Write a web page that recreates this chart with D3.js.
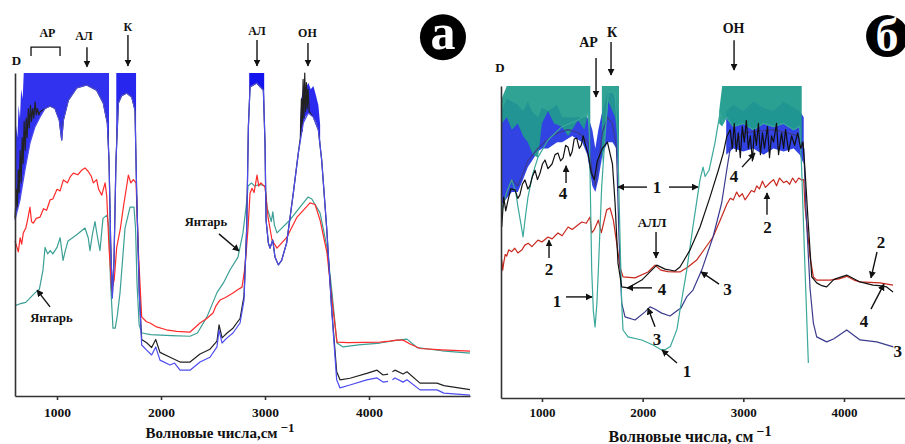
<!DOCTYPE html>
<html>
<head>
<meta charset="utf-8">
<script src="https://cdn.jsdelivr.net/npm/d3@7"></script>
<style>
  body { margin: 0; background: #fff; }
  svg { display: block; font-family: "Liberation Serif", "Times New Roman", serif; font-weight: bold; }
  .axis path, .axis line { stroke: #333; stroke-width: 1.6; }
  .axis text { font-family: "Liberation Serif", serif; font-weight: bold; fill: #111; }
  .curve { fill: none; stroke-width: 1.2; stroke-linejoin: round; }
</style>
</head>
<body>
<svg id="chart" width="905" height="444"></svg>
<script>
const d3 = window.d3;

// ---------- panel "а" : [wavenumber, D] ----------
const ticks = [1000, 2000, 3000, 4000];

const aTeal = [
  [596,28],[640,28.5],[700,29],[760,31],[790,32],[830,33],[865,39],[885,46],[910,44],[935,45],[960,44],[1000,46],
  [1030,49],[1058,42],[1080,45],[1106,48],[1150,49],[1192,50],[1230,51],[1269,52],[1300,49],[1317,45],[1340,50],
  [1365,54],[1390,49],[1413,45],[1442,55],[1481,56],[1500,52],[1515,35],[1538,21],[1560,21],[1580,25],[1606,32],
  [1654,52],[1702,58.5],[1740,58.5],[1755,52],[1769,35],[1790,22],[1817,19.5],[1900,19],[2100,18.7],[2279,18.5],
  [2350,19.5],[2442,24.5],[2538,32],[2600,35],[2663,39],[2740,43],[2788,50.5],[2827,61],[2837,65],[2870,66],
  [2900,65],[2950,65.5],[3000,65],[3019,58.5],[3060,54],[3075,57],[3090,53],[3115,50.5],[3240,54.5],[3336,58.5],
  [3413,61.6],[3450,61],[3529,56.7],[3596,46],[3644,32],[3692,16.4],[3750,15.2],[3900,15.8],[4106,16.4],[4269,17.3],
  [4365,17.6],[4462,15],[4700,14],[4971,13.3]
];

const aRed = [
  [596,48],[615,46],[628,44.6],[645,49],[660,47],[676,50.5],[700,52],[720,55],[740,58.5],[755,54],[772,53.5],
  [800,55],[837,55.4],[870,58],[900,57.5],[933,60.7],[960,61],[1000,64],[1030,63.5],[1061,66.9],[1100,66],
  [1130,68],[1157,69],[1200,68.5],[1240,70],[1269,70.6],[1301,69.5],[1330,68],[1349,66],[1381,67],[1400,64],
  [1430,62.2],[1462,66],[1478,62],[1500,46],[1526,32.8],[1550,36],[1574,46],[1610,52],[1638,58.5],[1665,64],
  [1686,68.4],[1710,66],[1734,67],[1760,66],[1782,45],[1814,24.5],[1860,23],[1894,22.6],[1950,21.5],[2050,20.5],
  [2150,20],[2279,19.8],[2375,22.6],[2440,24],[2500,25.7],[2530,28],[2567,29.7],[2620,30.5],[2692,31.9],[2740,33],
  [2779,33.7],[2808,40],[2837,52],[2856,62.8],[2875,64.3],[2895,63],[2923,68.4],[2940,65],[2960,66],[3000,64.7],
  [3029,55.4],[3067,48.3],[3115,45.8],[3211,49.2],[3308,55.4],[3433,59.8],[3481,59.3],[3529,54.5],[3596,44.3],
  [3644,29.7],[3692,16.7],[3800,16.5],[4106,16.7],[4200,17],[4267,17.3],[4327,17.3],[4400,16],[4490,14.7],
  [4700,14.3],[4971,13.9]
];

const aBlue = [
  [596,54.5],[644,60.7],[692,70],[740,78.3],[788,83.3],[837,86.4],[885,89],[933,89.8],[981,89],[1022,85.4],
  [1045,79.3],[1061,85.4],[1109,91.6],[1189,95.4],[1285,96.3],[1381,94.7],[1445,90.7],[1484,84.5],[1500,73],
  [1516,47.4],[1532,30.3],[1548,42],[1567,73],[1590,90.7],[1622,93],[1670,93.8],[1718,92.6],[1750,88.5],
  [1766,62.8],[1791,31.9],[1814,15.8],[1862,14.2],[1910,12.7],[1949,15.2],[1990,11.1],[2087,9.6],[2130,10.2],
  [2183,8],[2279,8],[2375,10.5],[2471,12],[2538,15.2],[2558,20.4],[2587,16.4],[2635,18],[2692,19.5],[2760,22.6],
  [2798,29.7],[2824,52],[2840,83.3],[2856,95.7],[2920,96.9],[2984,94.7],[3000,78.3],[3010,54.5],[3032,47.4],
  [3048,45.8],[3074,48.3],[3096,43],[3128,40.6],[3160,42],[3208,47.4],[3272,62.8],[3320,75.2],[3368,84.5],
  [3416,87.6],[3465,86.4],[3513,82.4],[3545,73],[3593,52],[3641,26.6],[3689,5],[3721,2.5],[3817,3.4],[3978,5],
  [4077,5.6],[4135,4.3],[4183,4.5],[4200,null],[4225,5],[4250,5.6],[4327,4.3],[4365,5],[4490,1.9],[4654,1.9],
  [4720,0.9],[4971,0.3]
];

const aBlack = [
  [596,55],[610,64],[618,58],[628,70],[636,63],[646,76],[655,66],[665,80],[674,72],[684,85],[694,76],[704,86],
  [713,80],[724,89],[733,83],[745,90],[754,85],[766,89],[776,86],[790,91],[800,87],[812,89],[825,87],[837,88],
  [885,89],[933,89.8],[981,89],[1022,85.4],[1045,79.3],[1061,85.4],[1109,91.6],[1189,95.4],[1285,96.3],
  [1381,94.7],[1445,90.7],[1484,84.5],[1500,73],[1516,47.4],[1532,31],[1548,42],[1567,73],[1590,90.7],[1622,93],
  [1670,93.8],[1718,92.6],[1750,88.5],[1766,62.8],[1791,32],[1814,17.5],[1862,16.5],[1910,15],[1949,17.5],
  [1990,13.5],[2087,12],[2183,10.5],[2279,10.5],[2375,13],[2471,14.5],[2538,17],[2558,22],[2587,18],[2635,19.5],
  [2692,21],[2760,24],[2798,31],[2824,52],[2840,83.3],[2856,95.7],[2920,96.9],[2984,94.7],[3000,78.3],[3010,54.5],
  [3032,47.4],[3048,45.8],[3074,48.3],[3096,43],[3128,40.6],[3160,42],[3208,47.4],[3272,62.8],[3320,75.2],
  [3340,80],[3350,92],[3358,82],[3366,98],[3374,86],[3382,100],[3390,88],[3398,97],[3406,89],[3414,95],[3425,88],
  [3465,86.4],[3513,82.4],[3545,73],[3593,52],[3641,27],[3689,7.5],[3721,5],[3817,5.5],[3978,7],[4077,8],
  [4135,6.5],[4183,6.8],[4200,null],[4225,7.5],[4250,8],[4327,6.8],[4365,7.5],[4490,4],[4654,4],[4720,3.2],
  [4971,2]
];

// saturated noise bands of the blue spectrum: [wavenumber, low D, high D]
const aBandLeft = [
  [596,54.5,74],[605,56,84],[620,58,80],[630,59,90],[644,60.7,86],[655,63,95],[670,66,92],[680,68,100],
  [692,70,100],[740,78.3,100],[788,83.3,100],[837,86.4,100],[885,89,100],[933,89.8,100],[981,89,100],
  [1022,85.4,100],[1045,79.3,100],[1061,85.4,100],[1109,91.6,100],[1189,95.4,100],[1285,96.3,100],
  [1381,94.7,100],[1445,90.7,100],[1484,84.5,100],[1500,74,100]
];
const aBandK = [[1570,78,100],[1590,90.7,100],[1622,93,100],[1670,93.8,100],[1718,92.6,100],[1750,88.5,100],[1760,80,100]];
const aBandAL = [[2848,90,100],[2856,95.7,100],[2920,96.9,100],[2984,94.7,100],[2992,88,100]];
const aBandOH = [
  [3336,80,84],[3350,81,92],[3368,84.5,96],[3390,86.5,95],[3416,87.6,97],[3440,87.5,95],[3465,86.4,96],
  [3490,85,93],[3513,82.4,90],[3530,78,84]
];

// ---------- panel "б" ----------
const bTeal = [
  [600,60],[650,66],[699,69.9],[740,66],[762,61.2],[790,56],[812,51.6],[835,58],[861,64.4],[910,72],[961,77.2],
  [1060,82.7],[1196,86.9],[1358,89.1],[1457,91.3],[1470,85],[1477,73],[1494,41],[1510,28],[1527,22.8],[1545,30],
  [1560,41],[1593,67.6],[1626,83.7],[1659,98],[1726,98],[1752,83.7],[1775,51.6],[1792,30.4],[1805,21.8],
  [1855,19.6],[1991,18.6],[2103,17],[2189,15.4],[2230,15.6],[2275,16.5],[2341,22],[2371,28.2],[2438,41],
  [2500,55],[2570,70],[2600,74],[2620,71],[2660,73],[2718,81.7],[2768,91.3],[2800,88],[2830,90],[2900,87],
  [3000,88],[3100,86],[3200,88],[3300,87],[3400,88],[3500,86],[3560,87],[3580,73],[3613,41],[3646,11.2]
];

const bRed = [
  [600,44.2],[610,41],[620,43.3],[635,46],[650,45.5],[670,47.5],[699,46.9],[730,48],[760,46.5],[799,47.4],
  [830,49],[864,49.6],[900,48.5],[960,50.6],[1000,50],[1060,51.6],[1100,51],[1159,52.9],[1200,52],[1259,54.8],
  [1300,54],[1395,56.4],[1440,56],[1477,58],[1494,52.9],[1520,54],[1560,57],[1590,53],[1643,60.3],[1676,60.9],
  [1709,57],[1742,49.7],[1775,42],[1805,38.8],[1924,38.5],[2053,40.4],[2123,42.6],[2180,41],[2250,40.5],
  [2321,40.4],[2371,40.4],[2450,42],[2537,44.2],[2620,48],[2699,51.6],[2770,57],[2835,62],[2870,64],[2900,63.5],
  [2934,66],[2960,64.5],[2990,65.5],[3017,63.5],[3050,65],[3080,66.5],[3110,66],[3133,68],[3160,67],[3190,69.5],
  [3220,67.5],[3265,69],[3300,70],[3330,68],[3360,70.5],[3400,69],[3431,69.5],[3460,68.5],[3490,70.5],[3520,69],
  [3550,70.5],[3580,69.9],[3600,70],[3613,61.2],[3663,45.2],[3696,38.8],[3729,37.8],[3861,37.8],[3950,38.2],
  [4027,39],[4100,37.8],[4159,37.2],[4358,36.9],[4487,36.2]
];

const bNavy = [
  [600,60],[650,66],[700,70],[760,68],[812,72],[860,76],[960,80],[1060,83],[1160,85],[1260,86],[1360,85],
  [1460,82],[1500,72],[1530,68],[1560,75],[1600,85],[1650,90],[1700,88],[1740,80],[1765,51.6],[1792,30.4],
  [1825,26],[1924,25],[2024,27.6],[2073,29.2],[2120,28.5],[2189,27.2],[2272,26.3],[2351,28.2],[2380,28.8],
  [2437,32.4],[2500,34.6],[2587,41],[2699,51.6],[2785,62.5],[2835,73],[2870,80],[3000,85],[3300,86],[3550,84],
  [3600,80],[3623,60],[3663,35],[3696,24],[3729,19.6],[3828,18],[3900,19],[4027,21.8],[4159,18.6],[4325,18],
  [4490,16.4]
];

const bBlack = [
  [600,54.8],[620,64.4],[640,60],[660,63],[690,67],[732,66.7],[760,64],[780,65],[805,68.5],[831,69.9],[860,67],
  [880,68],[905,71],[931,73],[955,70],[980,72],[1005,75],[1030,76.3],[1060,73.5],[1100,75],[1130,78],[1159,78.5],
  [1185,76],[1210,77],[1235,81],[1259,80.4],[1280,77.5],[1300,79],[1320,83],[1345,83.3],[1370,80],[1390,81],
  [1410,84],[1427,81.7],[1460,78],[1490,72],[1520,70],[1550,76],[1600,80],[1650,82],[1700,75],[1726,62.5],
  [1755,43.3],[1792,35.6],[1855,35.3],[1991,37.8],[2090,41],[2140,42.6],[2222,41.3],[2321,40.7],[2371,42],
  [2470,47.4],[2570,54.8],[2669,64.4],[2752,73],[2801,78.5],[2835,83.7],[2870,86],[2890,80],[2910,88],[2930,79],
  [2950,85],[2970,77],[2990,87],[3010,82],[3030,89],[3050,80],[3070,84],[3090,76],[3110,86],[3130,81],[3150,88],
  [3170,78],[3190,85],[3210,80],[3240,87],[3260,77],[3280,84],[3300,82],[3330,88],[3350,78],[3380,85],[3400,80],
  [3420,86],[3450,79],[3480,84],[3510,81],[3540,85],[3570,80],[3593,82],[3613,73],[3643,57],[3680,38.8],
  [3729,36.9],[3780,36],[3828,35.6],[3900,38],[4027,39.4],[4159,37.2],[4288,36.2],[4350,36],[4424,35.6],[4487,34]
];

const bBlueLeft = [
  [600,62,92],[650,64,96],[700,66,95],[760,66,94],[812,70,92],[860,74,95],[900,76,92],[960,79,90],[1000,80,93],
  [1060,80,92],[1150,82,94],[1200,82,90],[1300,84,90],[1400,82,90],[1450,78,90],[1480,72,88],[1500,68,86],
  [1530,66,80],[1560,70,86],[1600,78,92],[1650,82,98],[1700,82,98],[1740,80,95],[1760,70,90]
];
const bBlueRight = [
  [2830,78,92],[2900,80,94],[3000,79,92],[3100,80,95],[3200,78,93],[3300,80,92],[3400,79,95],[3500,80,93],
  [3560,78,92],[3600,75,90]
];
const bTealLeft = [
  [600,88,96],[650,90,100],[700,86,100],[760,88,100],[812,84,100],[860,82,100],[910,78,100],[961,77,100],
  [1000,88,100],[1060,92,100],[1120,88,100],[1196,87,100],[1260,84,100],[1358,89,100],[1420,86,100],
  [1457,91,100],[1470,85,100],[1480,78,100]
];
const bTealK = [[1595,75,100],[1626,84,100],[1659,95,100],[1700,92,100],[1726,90,100],[1752,84,100],[1765,70,100]];
const bTealRight = [
  [2760,88,92],[2790,87,100],[2830,90,100],[2900,87,100],[3000,88,100],[3100,86,100],[3200,88,100],
  [3300,87,100],[3400,88,100],[3500,86,100],[3560,87,100],[3580,80,100]
];

// ---------- annotations (positions in wavenumber / D units) ----------
const aTexts = [
  { t: "D", wn: 610, d: 102.5, s: 13 },
  { t: "АР", wn: 908, d: 111, s: 12 },
  { t: "АЛ", wn: 1259, d: 110.2, s: 12 },
  { t: "К", wn: 1682, d: 113, s: 12 },
  { t: "АЛ", wn: 2923, d: 111.8, s: 12 },
  { t: "ОН", wn: 3408, d: 111.1, s: 12 },
  { t: "Янтарь", wn: 2432, d: 52.6, s: 12.5 },
  { t: "Янтарь", wn: 947, d: 22.9, s: 12.5 }
];
const aArrows = [
  [1288,108,1288,101.9],[1682,111.8,1682,102.2],[2923,110.2,2923,102.2],[3413,109.3,3413,102.2],
  [2557,50.2,2750,44.9],[933,27.6,808,32.8]
];
const aBracket = [[750,105.3],[750,108],[1029,108],[1029,105.3]];

const bTexts = [
  { t: "D", wn: 583, d: 104.5, s: 13 },
  { t: "АР", wn: 1462, d: 112.5, s: 14 },
  { t: "К", wn: 1696, d: 115.7, s: 14 },
  { t: "ОН", wn: 2903, d: 117, s: 14 },
  { t: "4", wn: 1209, d: 63.8, s: 17 },
  { t: "1", wn: 2143, d: 65.7, s: 17 },
  { t: "4", wn: 2908, d: 69.2, s: 17 },
  { t: "2", wn: 3240, d: 52.9, s: 17 },
  { t: "АЛЛ", wn: 2093, d: 54.8, s: 13 },
  { t: "2", wn: 1070, d: 39.4, s: 17 },
  { t: "4", wn: 2192, d: 33, s: 17 },
  { t: "3", wn: 2843, d: 33, s: 17 },
  { t: "2", wn: 4368, d: 48.1, s: 17 },
  { t: "4", wn: 4199, d: 22.8, s: 17 },
  { t: "3", wn: 4492, d: 13.1, s: 17, anchor: "start" },
  { t: "1", wn: 1149, d: 29.2, s: 17 },
  { t: "3", wn: 2143, d: 17, s: 17 },
  { t: "1", wn: 2441, d: 6.7, s: 17 }
];
const bArrows = [
  [1537,109,1537,96.5],[1686,114.1,1686,103.5],[2908,114.7,2908,105.1],[1239,68.9,1239,74.4],
  [2043,67.6,1755,67.6],[2262,67.6,2550,67.6],[2987,74,3116,78.5],[3235,58.7,3235,65.7],[2133,53.2,2133,44.9],
  [1070,44.9,1070,50.6],[2093,35.3,1845,35.3],[2759,36.5,2580,40.4],[4328,46.8,4268,38.5],[4268,28.5,4397,36.5],
  [1239,32.4,1497,32.4],[2123,22.8,2053,28.8],[2341,11.2,2192,15.4]
];

const svg = d3.select("#chart");

svg.append("defs").append("marker")
  .attr("id", "head")
  .attr("viewBox", "0 0 10 10")
  .attr("refX", 9).attr("refY", 5)
  .attr("markerWidth", 7).attr("markerHeight", 7)
  .attr("markerUnits", "userSpaceOnUse")
  .attr("orient", "auto")
  .append("path").attr("d", "M0,0L10,5L0,10z").attr("fill", "#111");

function drawPanel(cfg) {
  const { x, y, g } = cfg;
  const line = d3.line().defined((d) => d[1] != null).x((d) => x(d[0])).y((d) => y(d[1]));
  const area = d3.area().x((d) => x(d[0])).y0((d) => y(d[1])).y1((d) => y(d[2]));

  cfg.layers.forEach((layer) => {
    if (layer.band) {
      g.append("path").attr("d", area(layer.data)).attr("fill", layer.color).attr("opacity", layer.opacity || 1);
    } else {
      g.append("path").attr("class", "curve").attr("d", line(layer.data))
        .attr("stroke", layer.color).attr("stroke-width", layer.width || 1.2);
    }
  });

  g.append("g").attr("class", "axis")
    .attr("transform", `translate(0,${y(0)})`)
    .call(d3.axisBottom(x).tickValues(ticks).tickFormat(d3.format("d")).tickSize(4).tickSizeOuter(0).tickPadding(cfg.pad))
    .call((s) => s.selectAll("text").style("font-size", cfg.tickSize + "px"));

  g.append("g").attr("class", "axis")
    .attr("transform", `translate(${x.range()[0]},0)`)
    .call(d3.axisLeft(y).tickValues([]).tickSizeOuter(0));

  cfg.texts.forEach((t) => {
    g.append("text").attr("x", x(t.wn)).attr("y", y(t.d))
      .attr("text-anchor", t.anchor || "middle").style("font-size", t.s + "px").attr("fill", "#111").text(t.t);
  });
  cfg.arrows.forEach((a) => {
    g.append("line").attr("x1", x(a[0])).attr("y1", y(a[1])).attr("x2", x(a[2])).attr("y2", y(a[3]))
      .attr("stroke", "#111").attr("stroke-width", 1.4).attr("marker-end", "url(#head)");
  });

  const title = g.append("text").attr("x", cfg.title.x).attr("y", cfg.title.y)
    .attr("text-anchor", "middle").style("font-size", cfg.title.s + "px").attr("fill", "#111");
  title.append("tspan").text(cfg.title.t);
  title.append("tspan").attr("dy", -6).attr("dx", 3).style("font-size", (cfg.title.s - 2) + "px").text("−1");

  const badge = g.append("g").attr("transform", `translate(${x(cfg.badge.wn)},${y(cfg.badge.d)})`);
  badge.append("circle").attr("r", cfg.badge.r).attr("fill", "#000");
  badge.append("text").attr("text-anchor", "middle").attr("dy", cfg.badge.dy)
    .style("font-size", cfg.badge.s + "px").attr("fill", "#fff").text(cfg.badge.t);
}

const xA = d3.scaleLinear().domain([596, 4971]).range([15, 470]);
const yA = d3.scaleLinear().domain([0, 100]).range([396, 73]);
const gA = svg.append("g");
drawPanel({
  x: xA, y: yA, g: gA, pad: 7, tickSize: 13.5,
  layers: [
    { data: aTeal, color: "#3a9f95" },
    { data: aRed, color: "#ff2a2a" },
    { band: true, data: aBandLeft, color: "#1414ee", opacity: 0.88 },
    { band: true, data: aBandK, color: "#1414ee", opacity: 0.92 },
    { band: true, data: aBandAL, color: "#1414ee" },
    { band: true, data: aBandOH, color: "#1414ee", opacity: 0.9 },
    { data: aBlack, color: "#222", width: 1 },
    { data: aBlue, color: "#4c4cf0" }
  ],
  texts: aTexts, arrows: aArrows,
  title: { t: "Волновые числа,см", x: 220, y: 438, s: 15 },
  badge: { t: "а", wn: 4711, d: 111.1, r: 23, s: 50, dy: 12 }
});
gA.append("path")
  .attr("d", d3.line().x((d) => xA(d[0])).y((d) => yA(d[1]))(aBracket))
  .attr("fill", "none").attr("stroke", "#111").attr("stroke-width", 1.3);

const xB = d3.scaleLinear().domain([593, 4606]).range([501, 905]);
const yB = d3.scaleLinear().domain([0, 100]).range([398, 86]);
const gB = svg.append("g");
drawPanel({
  x: xB, y: yB, g: gB, pad: 6, tickSize: 13,
  layers: [
    { band: true, data: bBlueLeft, color: "#1b2fe0", opacity: 0.9 },
    { band: true, data: bBlueRight, color: "#1b2fe0", opacity: 0.9 },
    { band: true, data: bTealLeft, color: "#1f9b8c", opacity: 0.92 },
    { band: true, data: bTealK, color: "#1f9b8c", opacity: 0.92 },
    { band: true, data: bTealRight, color: "#1f9b8c", opacity: 0.95 },
    { data: bRed, color: "#c8281e", width: 1.4 },
    { data: bNavy, color: "#3b3b8e" },
    { data: bTeal, color: "#3aa89b" },
    { data: bBlack, color: "#111", width: 1.3 }
  ],
  texts: bTexts, arrows: bArrows,
  title: { t: "Волновые числа, см", x: 690, y: 442, s: 16 },
  badge: { t: "б", wn: 4428, d: 116, r: 21, s: 46, dy: 15 }
});
</script>
</body>
</html>
